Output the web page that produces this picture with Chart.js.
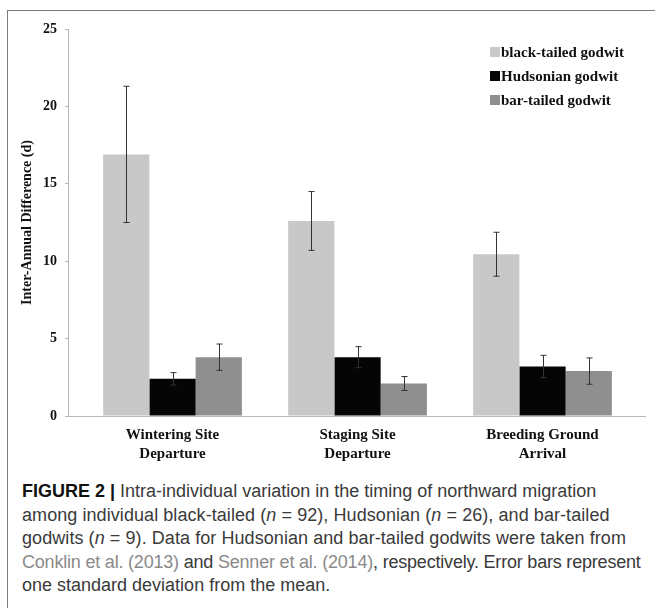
<!DOCTYPE html>
<html>
<head>
<meta charset="utf-8">
<script src="https://cdn.jsdelivr.net/npm/chart.js@4.4.0/dist/chart.umd.min.js"></script>
<style>
  html, body { margin: 0; padding: 0; background: #fff; }
  #wrap { position: relative; width: 655px; height: 608px; overflow: hidden; }
  #frame { position: absolute; left: 7px; top: 10px; right: -5px; bottom: -5px;
           border-left: 1.5px solid #7a7a7a; border-top: 1.5px solid #7a7a7a; }
  #chartBox { position: absolute; left: 0; top: 0; width: 655px; height: 465px; }
  #legend { position: absolute; left: 490px; top: 41px; font: bold 15px "Liberation Serif", serif; color: #111; }
  #legend div { height: 24px; line-height: 22px; white-space: nowrap; }
  #legend span { display: inline-block; width: 10px; height: 10px; margin-right: 1px; vertical-align: 0px; }
  #caption { position: absolute; left: 22px; top: 480px; width: 640px; white-space: nowrap;
             font: 18px "Liberation Sans", Arial, sans-serif; line-height: 23.5px; color: #3a3a3a; }
  #caption b { font-weight: bold; color: #111; }
  #caption .ref { color: #8a8a8a; }
  #caption .wide { letter-spacing: 0.07px; }
  #caption .tight { letter-spacing: -0.2px; }
</style>
</head>
<body>
<div id="wrap">
  <div id="frame"></div>
  <div id="chartBox"><canvas id="canvas"></canvas></div>
  <div id="legend"></div>
  <div id="caption">
    <b>FIGURE 2 |</b> Intra-individual variation in the timing of northward migration<br>
    <span class="wide">among individual black-tailed (<i>n</i> = 92), Hudsonian (<i>n</i> = 26), and bar-tailed</span><br>
    <span class="wide">godwits (<i>n</i> = 9). Data for Hudsonian and bar-tailed godwits were taken from</span><br>
    <span class="tight"><span class="ref">Conklin et al. (2013)</span> and <span class="ref">Senner et al. (2014)</span>, respectively. Error bars represent</span><br>
    one standard deviation from the mean.
  </div>
</div>
<script>
let categories = [ ['Wintering Site', 'Departure'], ['Staging Site', 'Departure'], ['Breeding Ground', 'Arrival'] ];
let species = [ 'black-tailed godwit', 'Hudsonian godwit', 'bar-tailed godwit' ];

// mean inter-annual difference (d)
let blackTailed = [ 16.9, 12.6, 10.45 ];
let hudsonian   = [ 2.4,  3.8,  3.2 ];
let barTailed   = [ 3.8,  2.1,  2.9 ];

// one standard deviation
let blackTailedSD = [ 4.4, 1.9, 1.42 ];
let hudsonianSD   = [ 0.4, 0.68, 0.72 ];
let barTailedSD   = [ 0.85, 0.45, 0.85 ];

let colors = [ '#c8c8c8', '#050505', '#8f8f8f' ];

function points(values) {
  return values.map((v, i) => ({ x: i, y: v }));
}

// draws the error bars from the sd arrays
let errorBars = {
  id: 'errorBars',
  afterDatasetsDraw(chart) {
    let ctx = chart.ctx;
    let y = chart.scales.y;
    ctx.save();
    ctx.strokeStyle = '#333';
    ctx.lineWidth = 1;
    chart.data.datasets.forEach((ds, d) => {
      let meta = chart.getDatasetMeta(d);
      meta.data.forEach((bar, i) => {
        let v = ds.data[i].y, e = ds.sd[i];
        let top = y.getPixelForValue(v + e);
        let bot = y.getPixelForValue(v - e);
        let x = Math.round(bar.x) + 0.5;
        ctx.beginPath();
        ctx.moveTo(x, top); ctx.lineTo(x, bot);
        ctx.moveTo(x - 3, top); ctx.lineTo(x + 3, top);
        ctx.moveTo(x - 3, bot); ctx.lineTo(x + 3, bot);
        ctx.stroke();
      });
    });
    ctx.restore();
  }
};

let serif = '"Liberation Serif", "Times New Roman", serif';

let options = {
  type: 'bar',
  data: {
    datasets: [
      { label: species[0], data: points(blackTailed), sd: blackTailedSD, backgroundColor: colors[0] },
      { label: species[1], data: points(hudsonian),   sd: hudsonianSD,   backgroundColor: colors[1] },
      { label: species[2], data: points(barTailed),   sd: barTailedSD,   backgroundColor: colors[2] }
    ]
  },
  options: {
    responsive: true,
    maintainAspectRatio: false,
    animation: false,
    layout: { padding: { left: 15, right: 10, top: 29, bottom: 0 } },
    datasets: { bar: { barPercentage: 1.0, categoryPercentage: 0.75 } },
    plugins: {
      legend: { display: false },
      tooltip: { enabled: false }
    },
    scales: {
      x: {
        type: 'linear',
        offset: false,
        bounds: 'ticks',
        min: -0.565,
        max: 2.554,
        afterBuildTicks(scale) { scale.ticks = categories.map((c, i) => ({ value: i })); },
        afterFit(scale) { scale.height = 49; },
        ticks: {
          autoSkip: false,
          maxRotation: 0,
          padding: 2,
          color: '#111',
          font: { family: serif, size: 15, weight: 'bold', lineHeight: 1.25 },
          callback: (v) => categories[v]
        },
        grid: { display: false },
        border: { color: '#b8b8b8', width: 1 }
      },
      y: {
        min: 0,
        max: 25,
        afterFit(scale) { scale.width = 53; },
        ticks: {
          stepSize: 5,
          padding: 8,
          color: '#111',
          font: { family: serif, size: 14, weight: 'bold' }
        },
        grid: { drawOnChartArea: false, drawTicks: true, tickLength: 3, color: '#b8b8b8' },
        border: { color: '#b8b8b8', width: 1 },
        title: {
          display: true,
          text: 'Inter-Annual Difference (d)',
          color: '#111',
          padding: { top: 4, bottom: 0 },
          font: { family: serif, size: 14, weight: 'bold' }
        }
      }
    }
  },
  plugins: [ errorBars ]
};

let chart = new Chart(document.getElementById('canvas'), options);

// legend in the top right corner
let legend = document.getElementById('legend');
species.forEach((s, i) => {
  let row = document.createElement('div');
  row.innerHTML = '<span style="background:' + colors[i] + '"></span>' + s;
  legend.appendChild(row);
});
</script>
</body>
</html>
